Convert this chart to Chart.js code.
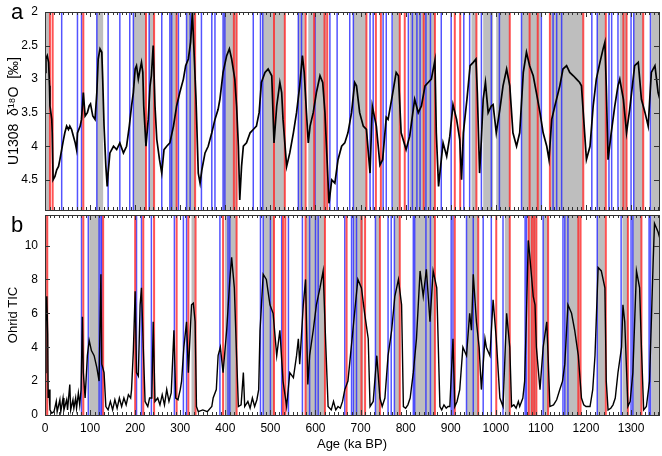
<!DOCTYPE html>
<html>
<head>
<meta charset="utf-8">
<script src="https://cdn.jsdelivr.net/npm/chart.js@4.4.1/dist/chart.umd.min.js"></script>
<style>
  body { margin: 0; background: #fff; width: 662px; height: 456px; overflow: hidden; position: relative; font-family: "Liberation Sans", Arial, sans-serif; }
  canvas { position: absolute; left: 0; }
  .tag { position: absolute; left: 11px; font-size: 22px; line-height: 1; color: #000; }
</style>
</head>
<body>
<canvas id="chartA" width="662" height="214" style="top:0"></canvas>
<canvas id="chartB" width="662" height="244" style="top:212px"></canvas>
<div class="tag" style="top:1px">a</div>
<div class="tag" style="top:214px">b</div>
<script>
// eixo x comum (ka BP)
const ageMax = 1362;
const ageTicks = [0, 100, 200, 300, 400, 500, 600, 700, 800, 900, 1000, 1100, 1200, 1300];

// painel a: U1308 d18O
const d18oTicks = [2, 2.5, 3, 3.5, 4, 4.5];
const d18oAge = [0, 2, 5, 8, 10, 11, 15, 16, 18, 22, 26, 30, 33, 37, 41, 44, 48, 52, 55, 59, 63, 67, 70, 72, 78, 81, 85, 89, 94, 98,
  101, 106, 111, 115, 118, 122, 126, 128, 131, 135, 138, 140, 144, 152, 159, 166, 174, 181, 187, 192, 196, 200, 203, 207, 211, 214, 217, 219, 224, 229,
  233, 236, 240, 244, 248, 254, 259, 264, 270, 277, 285, 292, 299, 307, 312, 318, 323, 327, 330, 335, 340, 344, 348, 355, 362, 370, 377, 384, 388, 395,
  403, 409, 414, 421, 425, 429, 432, 436, 440, 447, 455, 462, 469, 475, 480, 488, 495, 503, 508, 514, 521, 525, 528, 536, 543, 551, 558, 565, 571, 575,
  580, 584, 588, 595, 602, 610, 616, 621, 625, 630, 636, 643, 650, 658, 665, 672, 680, 687, 691, 698, 706, 713, 721, 726, 735, 743, 749, 757, 761, 769,
  779, 784, 790, 801, 809, 820, 828, 835, 843, 850, 857, 865, 868, 873, 876, 883, 891, 898, 905, 913, 920, 924, 928, 936, 943, 950, 956, 959, 964, 968,
  972, 977, 983, 990, 994, 1001, 1009, 1016, 1024, 1031, 1038, 1046, 1053, 1061, 1068, 1075, 1083, 1090, 1098, 1105, 1113, 1118, 1124, 1131, 1142, 1149, 1157, 1164, 1172, 1179,
  1186, 1190, 1197, 1201, 1209, 1216, 1223, 1231, 1238, 1242, 1245, 1249, 1256, 1264, 1271, 1275, 1283, 1290, 1297, 1308, 1316, 1323, 1331, 1338, 1345, 1353, 1360, 1364];
const d18oVal = [2.9, 2.7, 2.65, 2.75, 3.1, 3.4, 3.6, 3.8, 4.5, 4.45, 4.35, 4.3, 4.2, 4.05, 3.9, 3.8, 3.7, 3.75, 3.7, 3.75, 3.85, 3.95, 4.05, 3.8, 3.7, 3.6, 3.2, 3.55, 3.5, 3.4,
  3.37, 3.55, 3.6, 3.2, 2.7, 2.55, 2.6, 3.0, 3.7, 4.3, 4.6, 4.4, 4.1, 4.0, 4.05, 3.95, 4.1, 4.0, 3.7, 3.4, 3.2, 2.85, 2.8, 3.0, 2.85, 2.75, 2.9, 3.4, 4.0, 3.6,
  3.1, 2.95, 2.5, 3.4, 3.9, 4.2, 4.4, 4.05, 4.0, 3.95, 3.7, 3.4, 3.2, 3.0, 2.8, 2.7, 2.45, 2.0, 2.5, 3.3, 4.4, 4.55, 4.35, 4.1, 4.0, 3.8, 3.6, 3.45, 3.3, 2.9,
  2.65, 2.55, 2.7, 3.0, 3.4, 4.0, 4.8, 4.3, 4.0, 3.95, 3.8, 3.75, 3.7, 3.5, 3.05, 2.9, 2.85, 2.95, 3.95, 3.4, 3.05, 3.2, 3.6, 4.3, 4.1, 3.8, 3.5, 3.1, 2.65, 2.9,
  3.5, 3.95, 3.7, 3.5, 3.2, 2.95, 3.05, 3.5, 4.1, 4.85, 4.5, 4.55, 4.2, 4.0, 3.95, 3.8, 3.5, 3.05, 3.1, 3.5, 3.7, 3.75, 4.4, 3.4, 3.7, 4.28, 4.2, 3.57, 3.6, 3.3,
  2.9, 2.95, 3.8, 4.05, 3.85, 3.3, 3.5, 3.4, 3.1, 3.05, 3.0, 2.72, 3.8, 4.6, 4.4, 3.95, 4.15, 3.85, 3.38, 3.6, 3.9, 4.5, 3.8, 3.3, 2.8, 2.75, 2.7, 3.2, 4.4, 3.9,
  3.3, 3.05, 3.5, 3.4, 3.38, 3.8, 3.45, 3.1, 2.85, 3.1, 3.8, 4.0, 3.8, 2.9, 2.6, 2.8, 2.95, 3.2, 3.5, 3.8, 4.0, 4.2, 3.6, 3.4, 3.1, 2.85, 2.8, 2.9, 2.95, 3.0,
  3.05, 3.1, 3.8, 4.2, 4.0, 3.4, 3.0, 2.75, 2.55, 2.45, 3.1, 4.2, 3.8, 3.4, 3.1, 3.0, 3.3, 3.8, 3.45, 2.8, 2.75, 3.3, 3.5, 3.7, 2.9, 2.8, 3.2, 3.3];
const d18oShade = [[0, 10], [115, 129], [196, 224], [231, 242], [277, 292], [314, 333], [395, 425], [483, 532], [561, 576], [584, 597],
  [599, 624], [684, 713], [772, 787], [809, 865], [946, 957], [972, 994], [1001, 1031], [1057, 1099], [1122, 1194], [1225, 1243],
  [1275, 1290], [1306, 1327], [1345, 1365]];
const d18oRed = [11, 17, 85, 224, 242, 292, 333, 419, 425, 508, 532, 578, 597, 620, 626, 713, 734, 745, 787, 798, 840, 865, 909, 921, 957,
  1031, 1075, 1093, 1120, 1194, 1244, 1283, 1290, 1327];
const d18oBlue = [37, 72, 81, 115, 140, 166, 188, 196, 231, 259, 277, 281, 296, 314, 322, 347, 370, 377, 395, 399, 462, 478, 483, 562, 569,
  599, 632, 648, 676, 684, 721, 728, 750, 757, 770, 806, 815, 825, 832, 845, 855, 879, 901, 929, 942, 968, 990, 1008, 1057, 1101,
  1127, 1135, 1146, 1213, 1225, 1251, 1257, 1271, 1300, 1306, 1343];

// painel b: Ohrid TIC
const ticTicks = [0, 2, 4, 6, 8, 10];
const ticAge = [0, 2, 4, 6, 7, 9, 11, 15, 20, 25, 27, 33, 35, 40, 42, 48, 50, 55, 57, 62, 64, 68, 70, 74, 77, 80, 83, 85, 89, 94,
  98, 103, 109, 115, 120, 124, 126, 131, 135, 140, 145, 150, 155, 160, 165, 170, 175, 180, 185, 190, 192, 196, 200, 203, 207, 211, 214, 218, 222, 228,
  232, 237, 240, 244, 250, 255, 260, 265, 270, 275, 280, 286, 290, 295, 300, 303, 308, 314, 318, 325, 329, 333, 336, 340, 350, 360, 370, 373, 380, 384,
  389, 395, 403, 410, 414, 420, 425, 429, 435, 440, 443, 450, 455, 460, 465, 470, 474, 477, 484, 491, 499, 506, 514, 521, 528, 536, 543, 551, 558, 562,
  565, 573, 578, 583, 587, 595, 602, 610, 617, 623, 628, 635, 640, 645, 650, 655, 660, 665, 672, 683, 694, 702, 709, 717, 721, 728, 736, 743, 748, 754,
  761, 769, 776, 784, 791, 795, 800, 805, 810, 817, 824, 832, 839, 846, 854, 861, 869, 876, 880, 885, 890, 894, 898, 905, 909, 914, 920, 927, 935, 942,
  946, 950, 957, 963, 968, 976, 979, 987, 994, 1001, 1009, 1016, 1024, 1031, 1035, 1040, 1045, 1050, 1053, 1060, 1064, 1068, 1072, 1075, 1083, 1087, 1090, 1098, 1105, 1113,
  1116, 1120, 1128, 1135, 1142, 1148, 1153, 1160, 1168, 1175, 1183, 1190, 1195, 1200, 1209, 1215, 1220, 1227, 1234, 1242, 1245, 1249, 1255, 1260, 1265, 1271, 1279, 1282, 1286, 1293,
  1298, 1304, 1312, 1319, 1323, 1328, 1334, 1341, 1349, 1352, 1360, 1365];
const ticVal = [2.5, 5.5, 7.0, 4.8, 1.0, 1.5, 0.3, 0.1, 0.2, 0.8, 0.2, 0.9, 0.2, 1.0, 0.3, 0.9, 0.3, 1.8, 0.3, 0.9, 0.4, 1.0, 0.4, 1.3, 0.6, 1.5, 5.8, 2.5, 1.0, 3.5,
  4.4, 3.8, 3.5, 2.8, 2.0, 8.3, 3.0, 2.5, 0.5, 0.3, 0.8, 0.3, 0.9, 0.4, 1.0, 0.5, 1.0, 0.6, 1.2, 1.0, 1.5, 3.8, 7.3, 2.5, 2.3, 6.5, 7.5, 4.0, 0.8, 0.5,
  1.0, 1.0, 5.5, 0.8, 1.0, 0.6, 1.2, 0.6, 1.5, 0.8, 1.3, 5.0, 1.0, 0.9, 1.5, 2.0, 4.0, 5.5, 2.5, 6.5, 6.6, 5.5, 0.5, 0.2, 0.3, 0.2, 0.5, 1.0, 1.5, 3.5,
  4.0, 2.5, 5.0, 8.0, 9.3, 7.5, 3.5, 0.5, 0.6, 2.5, 0.5, 0.8, 0.4, 1.0, 0.5, 0.9, 1.5, 5.0, 8.3, 8.0, 6.5, 6.0, 3.5, 5.0, 2.0, 0.5, 2.5, 2.2, 3.5, 4.5,
  3.0, 6.5, 8.0, 1.8, 3.5, 5.0, 6.5, 7.5, 8.5, 4.0, 0.5, 0.3, 0.8, 0.3, 0.5, 0.4, 0.8, 1.5, 2.0, 5.0, 8.0, 7.5, 6.0, 4.5, 0.5, 0.8, 3.5, 1.0, 0.5, 1.0,
  3.5, 5.0, 7.0, 8.0, 6.5, 0.5, 0.4, 0.6, 1.0, 2.5, 4.5, 8.5, 7.0, 8.6, 5.5, 8.5, 7.5, 0.5, 0.3, 0.6, 0.4, 0.5, 0.5, 4.5, 0.5, 0.8, 1.5, 4.0, 3.5, 6.0,
  5.0, 8.3, 5.5, 4.0, 1.5, 4.5, 4.0, 3.5, 6.8, 4.5, 1.0, 0.5, 6.0, 4.0, 0.5, 0.6, 0.4, 0.8, 0.5, 1.0, 2.0, 6.0, 10.3, 9.5, 7.0, 6.5, 4.0, 1.5, 4.0, 5.5,
  3.5, 0.5, 0.6, 0.9, 1.5, 2.0, 3.0, 6.5, 6.0, 5.0, 3.5, 1.0, 0.6, 0.5, 0.5, 1.5, 3.5, 8.7, 8.5, 7.5, 2.0, 0.3, 0.4, 0.6, 1.0, 2.5, 4.0, 6.5, 5.5, 0.5,
  0.8, 2.5, 8.5, 7.5, 4.0, 0.3, 0.5, 2.0, 9.0, 11.3, 10.8, 10.3];
const ticShade = [[0, 5], [98, 122], [325, 333], [399, 425], [484, 508], [578, 621], [684, 706], [733, 743], [775, 787], [820, 865],
  [935, 961], [1020, 1031], [1071, 1090], [1105, 1116], [1153, 1186], [1225, 1242], [1281, 1293], [1304, 1323], [1345, 1365]];
const ticRed = [5, 85, 129, 200, 218, 242, 292, 318, 334, 395, 425, 508, 528, 533, 578, 621, 669, 702, 710, 743, 787, 865, 909, 961,
  1001, 1031, 1073, 1080, 1085, 1090, 1116, 1183, 1188, 1244, 1293, 1323];
const ticBlue = [81, 96, 120, 124, 126, 203, 214, 236, 287, 307, 314, 388, 406, 410, 478, 484, 500, 525, 540, 571, 587, 600, 606, 665,
  680, 684, 691, 733, 761, 768, 775, 817, 820, 845, 855, 901, 905, 935, 950, 972, 990, 1016, 1065, 1068, 1105, 1149, 1153, 1160,
  1225, 1278, 1300, 1304, 1340, 1343];

const labelFont = { family: 'Liberation Sans', size: 12 };
const titleFont = { family: 'Liberation Sans', size: 13 };

// sombreado, linhas verticais e moldura com ticks para dentro
const panelDecor = {
  id: 'panelDecor',
  beforeDatasetsDraw(chart, args, opts) {
    const { ctx, chartArea: a, scales: { x } } = chart;
    ctx.save();
    ctx.beginPath();
    ctx.rect(a.left, a.top, a.right - a.left, a.bottom - a.top);
    ctx.clip();
    ctx.fillStyle = '#bebebe';
    opts.shade.forEach(([s, e]) => {
      const x0 = x.getPixelForValue(s);
      const x1 = x.getPixelForValue(e);
      ctx.fillRect(x0, a.top, x1 - x0, a.bottom - a.top);
    });
    const lines = (list, color, w) => {
      ctx.strokeStyle = color;
      ctx.lineWidth = w;
      list.forEach(v => {
        const px = x.getPixelForValue(v);
        ctx.beginPath();
        ctx.moveTo(px, a.top);
        ctx.lineTo(px, a.bottom);
        ctx.stroke();
      });
    };
    lines(opts.blue, 'rgba(40,40,255,0.8)', 1.5);
    lines(opts.red, 'rgba(255,40,40,0.8)', 2);
    ctx.restore();
  },
  afterDraw(chart, args, opts) {
    const { ctx, chartArea: a, scales: { x, y } } = chart;
    ctx.save();
    ctx.strokeStyle = '#333';
    ctx.lineWidth = 1;
    ctx.beginPath();
    for (let v = 0; v <= ageMax; v += 10) {
      const px = Math.round(x.getPixelForValue(v)) + 0.5;
      const len = v % 100 === 0 ? 5 : 3;
      ctx.moveTo(px, a.top); ctx.lineTo(px, a.top + len);
      ctx.moveTo(px, a.bottom); ctx.lineTo(px, a.bottom - len);
    }
    opts.yTicks.forEach(v => {
      const py = Math.round(y.getPixelForValue(v)) + 0.5;
      ctx.moveTo(a.left, py); ctx.lineTo(a.left + 5, py);
      ctx.moveTo(a.right, py); ctx.lineTo(a.right - 5, py);
    });
    ctx.stroke();
    ctx.strokeRect(Math.round(a.left) + 0.5, Math.round(a.top) + 0.5, Math.round(a.right - a.left), Math.round(a.bottom - a.top));
    ctx.restore();
  }
};

function makePanel(id, ages, vals, yScale, decor, xScale, padding, lineW) {
  return new Chart(document.getElementById(id), {
    type: 'line',
    data: {
      datasets: [{
        data: ages.map((a, i) => ({ x: a, y: vals[i] })),
        borderColor: '#000',
        borderWidth: lineW,
        pointRadius: 0,
        tension: 0,
        fill: false
      }]
    },
    options: {
      responsive: false,
      animation: false,
      layout: { padding: padding },
      plugins: { legend: { display: false }, tooltip: { enabled: false }, panelDecor: decor },
      scales: { x: xScale, y: yScale }
    },
    plugins: [panelDecor]
  });
}

const yCommon = (min, max, ticks, title, reverse, tFont) => ({
  type: 'linear',
  min: min,
  max: max,
  reverse: reverse,
  afterBuildTicks: s => { s.ticks = ticks.map(v => ({ value: v })); },
  // largura fixa para alinhar os dois painéis, sem folga extra em cima/baixo
  afterFit: s => { s.width = 45; s.paddingTop = 0; s.paddingBottom = 0; },
  ticks: { callback: v => String(v), font: labelFont, color: '#000', padding: 7 },
  grid: { display: false, drawTicks: false },
  border: { display: false },
  title: { display: true, text: title, font: tFont, color: '#000', padding: { top: 6, bottom: 0 } }
});

makePanel('chartA', d18oAge, d18oVal,
  yCommon(2, 4.95, d18oTicks, 'U1308  \u03B4\u00B9\u2078O  [\u2030]', true, { family: 'Liberation Sans', size: 14 }),
  { shade: d18oShade, red: d18oRed, blue: d18oBlue, yTicks: d18oTicks },
  { type: 'linear', min: 0, max: ageMax, display: false },
  { top: 12, bottom: 4, left: 0, right: 3 }, 1.7);

makePanel('chartB', ticAge, ticVal,
  yCommon(0, 11.8, ticTicks, 'Ohrid TIC', false, titleFont),
  { shade: ticShade, red: ticRed, blue: ticBlue, yTicks: ticTicks },
  {
    type: 'linear', min: 0, max: ageMax,
    afterBuildTicks: s => { s.ticks = ageTicks.map(v => ({ value: v })); },
    afterFit: s => { s.height = 38; s.paddingLeft = 0; s.paddingRight = 0; },
    ticks: { font: labelFont, color: '#000', padding: 6, maxRotation: 0, autoSkip: false, callback: v => String(v) },
    grid: { display: false, drawTicks: false },
    border: { display: false },
    title: { display: true, text: 'Age (ka BP)', font: titleFont, color: '#000', padding: { top: 0, bottom: 1 } }
  },
  { top: 3, bottom: 3, left: 0, right: 3 }, 1.4);
</script>
</body>
</html>
